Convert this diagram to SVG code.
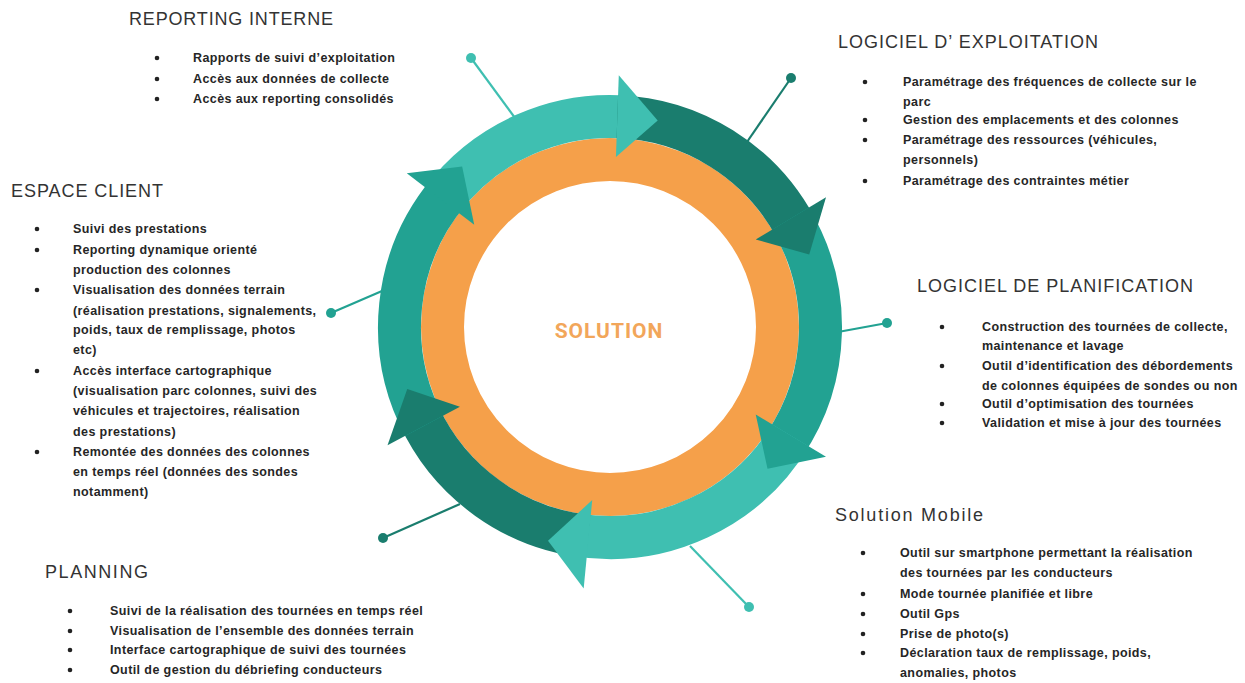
<svg xmlns="http://www.w3.org/2000/svg" width="1245" height="683" viewBox="0 0 1245 683">
<style>
.h{font-family:"Liberation Sans",Arial,sans-serif;font-size:18px;fill:#333}
.t{font-family:"Liberation Sans",Arial,sans-serif;font-size:12.5px;letter-spacing:0.4px;font-weight:bold;fill:#262626}
.b{fill:#222}
.body{fill:none;stroke-width:43}
.lt{stroke:#3fbfb1}.md{stroke:#22a292}.dk{stroke:#1a7d6e}
.flt{fill:#3fbfb1}.fmd{fill:#22a292}.fdk{fill:#1a7d6e}
.cn{stroke-width:2.2;fill:none}
</style>
<rect width="1245" height="683" fill="#ffffff"/>
<g id="connectors">
<line class="cn lt" x1="515" y1="118" x2="471" y2="58"/><circle class="flt" cx="471" cy="58" r="5"/>
<line class="cn dk" x1="747" y1="142" x2="791" y2="78"/><circle class="fdk" cx="791" cy="78" r="5"/>
<line class="cn md" x1="838" y1="332" x2="887" y2="323"/><circle class="fmd" cx="887" cy="323" r="5"/>
<line class="cn lt" x1="690" y1="546" x2="749" y2="607"/><circle class="flt" cx="749" cy="607" r="5"/>
<line class="cn dk" x1="460" y1="504" x2="383" y2="538"/><circle class="fdk" cx="383" cy="538" r="5"/>
<line class="cn md" x1="382" y1="291" x2="331" y2="313"/><circle class="fmd" cx="331" cy="313" r="5"/>
</g>
<g id="ring">
<circle cx="610" cy="327" r="167.5" fill="none" stroke="#f5a04a" stroke-width="43"/>
<path class="body lt" d="M441.89,200.32 A210.5,210.5 0 0 1 628.35,117.30"/>
<path class="body dk" d="M617.35,116.63 A210.5,210.5 0 0 1 795.85,228.17"/>
<path class="body md" d="M790.44,218.59 A210.5,210.5 0 0 1 784.50,444.71"/>
<path class="body lt" d="M790.44,435.41 A210.5,210.5 0 0 1 577.08,534.91"/>
<path class="body dk" d="M588.0,536.35 A210.5,210.5 0 0 1 419.22,415.96"/>
<path class="body md" d="M424.15,425.83 A210.5,210.5 0 0 1 448.76,191.69"/>
<polygon class="flt" points="615.93,157.10 618.79,75.15 657.70,120.43"/>
<polygon class="fdk" points="755.72,239.45 826.01,197.22 809.22,254.50"/>
<polygon class="fmd" points="755.72,414.55 826.01,456.78 767.54,468.85"/>
<polygon class="flt" points="592.23,500.07 583.67,588.61 548.01,540.74"/>
<polygon class="fdk" points="459.91,406.82 387.51,445.31 407.26,388.99"/>
<polygon class="fmd" points="474.24,224.69 406.75,173.35 462.15,166.46"/>
</g>
<g id="center">
<text x="609" y="338" text-anchor="middle" font-family="Roboto,'Liberation Sans',sans-serif" font-size="21" font-weight="bold" fill="#f2a65a" letter-spacing="1">SOLUTION</text>
</g>
<g id="reporting-interne">
<text class="h" x="129" y="25" textLength="204">REPORTING INTERNE</text>
<circle class="b" cx="157" cy="58" r="2.3"/><circle class="b" cx="157" cy="79" r="2.3"/><circle class="b" cx="157" cy="99" r="2.3"/>
<text class="t" x="193" y="62">Rapports de suivi d’exploitation</text>
<text class="t" x="193" y="83">Accès aux données de collecte</text>
<text class="t" x="193" y="103">Accès aux reporting consolidés</text>
</g>
<g id="espace-client">
<text class="h" x="11" y="197" textLength="152">ESPACE CLIENT</text>
<circle class="b" cx="37" cy="229" r="2.3"/><circle class="b" cx="37" cy="250" r="2.3"/><circle class="b" cx="37" cy="290" r="2.3"/><circle class="b" cx="37" cy="371" r="2.3"/><circle class="b" cx="37" cy="452" r="2.3"/>
<text class="t" x="73" y="233">Suivi des prestations</text>
<text class="t" x="73" y="254">Reporting dynamique orienté</text>
<text class="t" x="73" y="274">production des colonnes</text>
<text class="t" x="73" y="294">Visualisation des données terrain</text>
<text class="t" x="73" y="315">(réalisation prestations, signalements,</text>
<text class="t" x="73" y="334">poids, taux de remplissage, photos</text>
<text class="t" x="73" y="354">etc)</text>
<text class="t" x="73" y="375">Accès interface cartographique</text>
<text class="t" x="73" y="395">(visualisation parc colonnes, suivi des</text>
<text class="t" x="73" y="415">véhicules et trajectoires, réalisation</text>
<text class="t" x="73" y="436">des prestations)</text>
<text class="t" x="73" y="456">Remontée des données des colonnes</text>
<text class="t" x="73" y="476">en temps réel (données des sondes</text>
<text class="t" x="73" y="496">notamment)</text>
</g>
<g id="planning">
<text class="h" x="45" y="578" textLength="103">PLANNING</text>
<circle class="b" cx="70" cy="611" r="2.3"/><circle class="b" cx="70" cy="631" r="2.3"/><circle class="b" cx="70" cy="650" r="2.3"/><circle class="b" cx="70" cy="670" r="2.3"/>
<text class="t" x="110" y="615">Suivi de la réalisation des tournées en temps réel</text>
<text class="t" x="110" y="635">Visualisation de l’ensemble des données terrain</text>
<text class="t" x="110" y="654">Interface cartographique de suivi des tournées</text>
<text class="t" x="110" y="674">Outil de gestion du débriefing conducteurs</text>
</g>
<g id="logiciel-exploitation">
<text class="h" x="838" y="48" textLength="260">LOGICIEL D’ EXPLOITATION</text>
<circle class="b" cx="865" cy="82" r="2.3"/><circle class="b" cx="865" cy="120" r="2.3"/><circle class="b" cx="865" cy="140" r="2.3"/><circle class="b" cx="865" cy="181" r="2.3"/>
<text class="t" x="903" y="86">Paramétrage des fréquences de collecte sur le</text>
<text class="t" x="903" y="106">parc</text>
<text class="t" x="903" y="124">Gestion des emplacements et des colonnes</text>
<text class="t" x="903" y="144">Paramétrage des ressources (véhicules,</text>
<text class="t" x="903" y="164">personnels)</text>
<text class="t" x="903" y="185">Paramétrage des contraintes métier</text>
</g>
<g id="logiciel-planification">
<text class="h" x="917" y="292" textLength="276">LOGICIEL DE PLANIFICATION</text>
<circle class="b" cx="942" cy="327" r="2.3"/><circle class="b" cx="942" cy="366" r="2.3"/><circle class="b" cx="942" cy="404" r="2.3"/><circle class="b" cx="942" cy="423" r="2.3"/>
<text class="t" x="982" y="331">Construction des tournées de collecte,</text>
<text class="t" x="982" y="350">maintenance et lavage</text>
<text class="t" x="982" y="370">Outil d’identification des débordements</text>
<text class="t" x="982" y="390">de colonnes équipées de sondes ou non</text>
<text class="t" x="982" y="408">Outil d’optimisation des tournées</text>
<text class="t" x="982" y="427">Validation et mise à jour des tournées</text>
</g>
<g id="solution-mobile">
<text class="h" x="835" y="521" textLength="148">Solution Mobile</text>
<circle class="b" cx="863" cy="553" r="2.3"/><circle class="b" cx="863" cy="594" r="2.3"/><circle class="b" cx="863" cy="614" r="2.3"/><circle class="b" cx="863" cy="634" r="2.3"/><circle class="b" cx="863" cy="653" r="2.3"/>
<text class="t" x="900" y="557">Outil sur smartphone permettant la réalisation</text>
<text class="t" x="900" y="577">des tournées par les conducteurs</text>
<text class="t" x="900" y="598">Mode tournée planifiée et libre</text>
<text class="t" x="900" y="618">Outil Gps</text>
<text class="t" x="900" y="638">Prise de photo(s)</text>
<text class="t" x="900" y="657">Déclaration taux de remplissage, poids,</text>
<text class="t" x="900" y="677">anomalies, photos</text>
</g>
</svg>
